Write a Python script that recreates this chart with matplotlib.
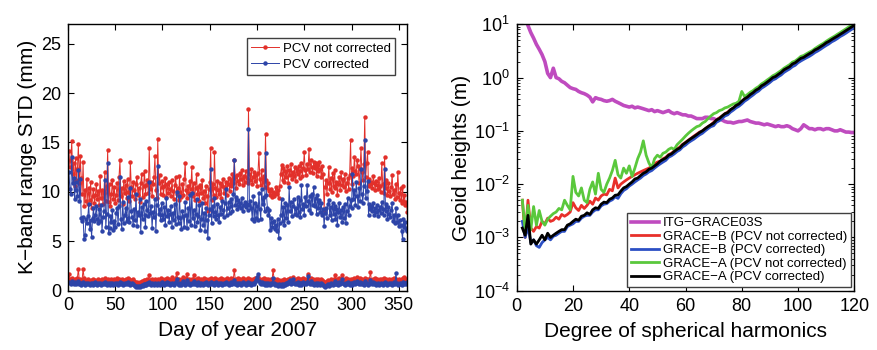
import numpy as np
import matplotlib
matplotlib.use('Agg')
import matplotlib.pyplot as plt

plt.rcParams['font.family'] = ['Liberation Sans', 'DejaVu Sans']
plt.rcParams['mathtext.fontset'] = 'custom'
plt.rcParams['mathtext.rm'] = 'Liberation Sans'
plt.rcParams['mathtext.it'] = 'Liberation Sans:italic'
plt.rcParams['mathtext.bf'] = 'Liberation Sans:bold'

# K-band range residual STD per day (mm), days 1..359
std_high_nc = [
    14.1, 12.5, 13.2, 15.1, 11.8, 12.9, 10.6, 13.4, 11.2, 12.3,
    14.8, 10.9, 13.6, 11.4, 9.8, 13.0, 8.6, 10.2, 9.1, 11.3,
    8.8, 10.4, 9.2, 11.0, 8.4, 9.6, 10.3, 8.9, 9.7, 10.8,
    9.3, 10.1, 8.7, 11.6, 9.4, 10.2, 8.8, 9.9, 12.0, 9.1,
    10.6, 14.2, 9.0, 10.8, 8.6, 9.8, 11.2, 9.3, 10.5, 8.9,
    9.7, 10.9, 9.2, 11.5, 13.2, 9.6, 10.4, 8.8, 11.1, 9.9,
    10.7, 9.4, 11.3, 10.0, 9.1, 13.0, 10.5, 9.6, 11.0, 10.2,
    9.3, 10.8, 11.5, 9.7, 10.4, 9.0, 10.9, 11.8, 9.5, 10.6,
    12.1, 9.8, 10.7, 11.2, 9.9, 14.4, 10.3, 11.0, 9.6, 10.8,
    11.5, 13.6, 10.2, 9.4, 15.3, 10.9, 11.7, 9.8, 10.5, 11.1,
    9.7, 10.6, 11.4, 9.5, 10.8, 9.9, 11.0, 10.3, 9.6, 11.2,
    10.1, 9.3, 10.7, 11.5, 9.8, 10.4, 9.2, 11.6, 10.0, 9.5,
    10.8, 9.7, 11.3, 12.9, 10.2, 9.4, 10.6, 9.9, 11.1, 10.3,
    12.5, 9.6, 10.9, 9.2, 10.4, 11.8, 9.8, 10.5, 9.1, 10.7,
    9.9, 11.2, 9.4, 10.1, 8.9, 10.6, 9.6, 8.1, 10.3, 11.0,
    14.4, 9.2, 10.8, 9.7, 14.0, 10.4, 9.5, 11.1, 10.2, 9.8,
    10.9, 9.4, 10.6, 11.3, 9.9, 10.5, 11.0, 9.7, 10.8, 11.4,
    10.1, 11.2, 10.6, 11.8, 10.9, 13.2, 11.5, 10.4, 11.7, 11.1,
    10.8, 11.9, 11.3, 12.2, 10.7, 11.6, 11.0, 12.1, 11.4, 10.9,
    18.4, 11.8, 11.2, 12.3, 10.8, 11.5, 12.0, 11.1, 11.7, 10.6,
    11.9, 13.9, 11.3, 10.7, 12.2, 11.0, 11.6, 10.5, 15.9, 11.2,
    10.4, 10.9, 10.1, 9.7, 10.3, 9.5, 10.0, 9.6, 9.9, 10.5,
    9.8, 10.2, 9.4, 10.6, 11.8, 12.7, 11.2, 12.4, 11.0, 12.1,
    11.5, 12.6, 10.9, 12.2, 11.7, 12.8, 11.3, 12.0, 11.6, 12.5,
    11.1, 12.3, 11.8, 12.6, 11.4, 12.1, 12.9, 11.6, 12.4, 14.0,
    12.2, 11.7, 12.8, 12.3, 14.3, 12.0, 13.2, 12.5, 11.9, 13.0,
    12.4, 12.9, 11.6, 12.7, 12.1, 13.0, 12.3, 11.5, 12.6, 11.8,
    8.2, 10.5, 11.2, 9.8, 10.9, 12.5, 10.3, 11.4, 10.0, 11.9,
    10.6, 12.2, 10.4, 11.0, 9.7, 10.8, 11.5, 10.2, 12.0, 10.7,
    11.3, 10.5, 11.8, 10.1, 10.9, 11.4, 10.3, 11.7, 15.2, 10.8,
    12.4, 11.6, 13.5, 12.1, 11.8, 13.2, 12.6, 10.9, 12.3, 14.4,
    12.0, 11.2, 12.8, 17.6, 11.5, 12.9, 14.0, 10.6, 11.3, 10.8,
    11.0, 10.4, 11.6, 10.9, 10.2, 11.1, 10.7, 10.3, 11.4, 10.6,
    10.0, 12.9, 10.8, 9.9, 13.5, 10.4, 11.2, 9.7, 10.9, 10.1,
    9.6, 10.5, 11.7, 9.8, 10.2, 9.3, 10.8, 9.5, 12.0, 9.9,
    9.2, 10.4, 8.9, 10.6, 9.1, 9.7, 8.7, 9.0, 8.0,
]
std_high_c = [
    12.0, 10.3, 9.8, 13.5, 10.9, 11.4, 9.3, 11.0, 10.2, 9.6,
    12.2, 9.1, 11.3, 7.3, 7.0, 7.4, 5.2, 5.6, 7.2, 6.8,
    7.5, 8.8, 6.2, 7.1, 5.4, 7.3, 8.4, 7.0, 7.6, 8.6,
    7.2, 6.8, 8.3, 7.0, 8.7, 6.0, 7.4, 8.1, 11.2, 6.4,
    7.8, 12.9, 5.8, 6.3, 7.5, 6.9, 8.2, 6.1, 7.0, 6.4,
    7.9, 8.4, 6.7, 8.6, 11.5, 7.2, 6.2, 9.0, 6.8, 7.6,
    8.4, 7.0, 9.5, 7.3, 6.9, 10.4, 8.1, 7.4, 6.6, 8.3,
    7.1, 9.8, 6.5, 8.0, 7.6, 9.3, 5.9, 8.5, 7.2, 8.8,
    7.7, 6.4, 9.1, 8.2, 7.5, 11.0, 7.9, 8.6, 6.3, 8.0,
    7.4, 9.3, 6.0, 8.7, 12.6, 7.8, 8.3, 7.1, 8.9, 7.6,
    7.2, 8.5, 6.6, 9.4, 7.5, 8.2, 6.9, 7.8, 8.6, 6.4,
    7.9, 7.1, 8.8, 6.7, 10.0, 7.4, 6.8, 9.6, 7.3, 6.2,
    8.1, 7.5, 6.4, 9.0, 7.7, 6.3, 8.4, 7.0, 9.7, 6.6,
    9.9, 7.3, 8.2, 6.5, 7.8, 9.3, 6.9, 7.5, 8.7, 6.1,
    7.2, 8.9, 6.6, 7.9, 6.0, 8.4, 7.1, 5.3, 7.7, 8.3,
    12.3, 6.8, 8.6, 7.5, 9.4, 8.0, 7.2, 8.8, 7.6, 6.9,
    8.5, 7.8, 9.1, 8.2, 7.4, 8.9, 10.3, 7.7, 8.4, 9.0,
    7.9, 8.6, 9.3, 8.1, 9.8, 13.2, 8.7, 9.5, 8.3, 9.2,
    8.6, 8.9, 8.4, 9.4, 8.1, 8.7, 9.0, 8.5, 8.8, 8.2,
    16.4, 8.7, 9.1, 8.4, 7.2, 9.6, 7.0, 8.9, 7.3, 8.6,
    7.1, 9.9, 8.3, 7.2, 10.3, 8.8, 9.5, 8.1, 13.9, 9.7,
    8.4, 7.6, 8.2, 6.1, 7.3, 6.4, 6.9, 7.0, 6.2, 6.6,
    6.0, 7.2, 5.3, 6.8, 7.7, 9.3, 7.0, 8.5, 6.6, 8.9,
    7.3, 8.7, 6.9, 10.5, 8.1, 9.0, 7.5, 8.6, 9.3, 7.8,
    8.4, 7.6, 9.5, 8.0, 9.2, 7.4, 10.7, 8.3, 8.8, 7.7,
    9.5, 8.6, 10.7, 9.1, 8.2, 9.6, 7.9, 9.8, 8.7, 10.5,
    8.6, 9.4, 7.8, 9.7, 8.4, 9.2, 8.0, 8.9, 7.6, 8.3,
    6.5, 7.9, 8.4, 7.3, 8.8, 9.2, 7.6, 8.5, 7.1, 8.9,
    7.8, 8.6, 7.2, 8.3, 6.6, 8.0, 8.9, 7.4, 8.2, 6.9,
    8.5, 7.3, 8.8, 6.8, 8.1, 9.4, 7.7, 8.6, 9.2, 8.4,
    11.8, 9.3, 10.2, 8.7, 11.0, 9.6, 8.5, 10.4, 9.1, 12.3,
    9.8, 8.9, 10.6, 15.2, 9.4, 10.1, 11.1, 7.6, 8.8, 8.3,
    8.6, 8.1, 8.9, 7.7, 8.4, 8.0, 8.7, 7.5, 8.2, 8.5,
    7.9, 9.0, 8.3, 7.6, 12.3, 8.1, 8.8, 7.2, 8.5, 7.8,
    7.4, 8.2, 8.9, 7.0, 7.6, 6.8, 8.4, 6.9, 7.7, 6.5,
    7.1, 6.6, 6.0, 5.2, 7.2, 6.4, 6.9, 6.2, 6.0,
]
std_low_nc = [
    1.7, 1.2, 1.0, 1.3, 1.1, 0.9, 1.2, 1.0, 1.1, 1.3,
    2.2, 1.0, 1.2, 0.9, 1.1, 2.2, 1.3, 1.0, 0.9, 1.1,
    1.2, 1.0, 0.9, 1.1, 1.0, 0.8, 1.2, 1.0, 1.1, 0.9,
    1.0, 1.2, 0.9, 1.1, 1.0, 1.2, 0.9, 1.0, 1.3, 1.1,
    1.0, 1.2, 0.9, 1.1, 1.0, 1.2, 1.1, 0.9, 1.2, 1.0,
    1.1, 1.3, 1.0, 1.2, 1.1, 1.0, 1.2, 0.9, 1.1, 1.0,
    1.2, 1.1, 1.3, 1.0, 1.2, 0.9, 1.1, 1.0, 1.2, 1.0,
    0.9, 0.8, 0.9, 0.7, 0.8, 0.9, 0.8, 1.0, 0.9, 1.1,
    1.0, 1.1, 0.9, 1.2, 1.0, 1.6, 1.1, 1.0, 1.2, 1.1,
    1.0, 1.2, 1.1, 0.9, 1.2, 1.0, 1.1, 1.3, 1.0, 1.2,
    1.1, 1.0, 1.2, 1.1, 1.3, 1.0, 1.2, 1.1, 1.0, 1.4,
    1.1, 1.0, 1.2, 1.3, 1.8, 1.1, 1.0, 1.2, 1.1, 1.0,
    1.2, 1.4, 1.1, 1.0, 1.3, 1.7, 1.1, 1.2, 1.0, 1.1,
    1.2, 1.0, 1.6, 1.1, 1.2, 1.0, 1.1, 1.3, 1.0, 1.1,
    1.2, 1.1, 1.0, 1.3, 1.1, 1.2, 1.0, 1.1, 1.2, 1.0,
    1.3, 1.1, 1.2, 1.0, 1.1, 1.3, 1.2, 1.0, 1.1, 1.2,
    1.1, 1.3, 1.0, 1.2, 1.1, 1.0, 1.2, 1.3, 1.1, 1.0,
    1.2, 1.1, 1.3, 1.0, 1.2, 2.1, 1.1, 1.2, 1.0, 1.3,
    1.1, 1.2, 1.0, 1.1, 1.3, 1.2, 1.1, 1.0, 1.2, 1.1,
    1.3, 1.1, 1.2, 1.0, 1.1, 1.2, 1.0, 1.3, 1.1, 1.2,
    1.4, 1.2, 1.1, 1.0, 1.2, 1.1, 1.3, 1.0, 1.2, 1.1,
    1.0, 1.2, 1.1, 1.0, 1.2, 1.1, 2.1, 1.2, 1.0, 1.1,
    1.2, 1.0, 1.1, 0.9, 1.0, 1.1, 0.9, 1.0, 1.2, 1.0,
    1.1, 1.0, 1.2, 1.1, 1.3, 1.0, 1.2, 1.4, 1.1, 1.0,
    1.2, 1.1, 1.3, 1.0, 1.2, 1.1, 1.0, 1.2, 1.3, 1.1,
    1.2, 1.0, 1.1, 1.7, 1.2, 1.1, 1.3, 1.0, 1.2, 1.1,
    1.0, 1.2, 1.1, 1.0, 1.2, 1.1, 1.0, 1.2, 1.1, 1.0,
    0.9, 0.8, 0.9, 1.0, 1.1, 0.9, 1.0, 1.2, 1.1, 1.0,
    1.2, 1.1, 1.6, 1.0, 1.2, 1.1, 1.3, 1.0, 1.1, 1.6,
    1.2, 1.0, 1.1, 1.3, 1.0, 1.2, 1.1, 1.0, 1.2, 1.1,
    1.0, 1.2, 1.3, 1.1, 1.0, 1.4, 1.2, 1.1, 1.3, 1.0,
    1.2, 1.1, 1.0, 1.3, 1.1, 1.2, 1.0, 1.1, 1.2, 1.9,
    1.1, 1.0, 1.2, 1.1, 1.3, 1.0, 1.2, 1.1, 1.0, 1.2,
    1.1, 1.2, 1.0, 1.3, 1.1, 1.0, 1.2, 1.1, 1.0, 1.2,
    1.1, 1.0, 1.2, 1.1, 1.3, 1.0, 1.2, 1.1, 1.0, 1.2,
    1.1, 1.0, 1.2, 1.3, 1.1, 1.4, 1.0, 1.2, 1.1,
]
std_low_c = [
    0.9, 0.8, 0.7, 1.0, 0.8, 0.7, 0.9, 0.8, 0.7, 0.8,
    1.0, 0.7, 0.8, 0.6, 0.8, 0.9, 0.7, 0.6, 0.8, 0.7,
    0.8, 0.7, 0.6, 0.8, 0.7, 0.6, 0.8, 0.7, 0.9, 0.7,
    0.6, 0.8, 0.7, 0.8, 0.6, 0.7, 0.8, 0.7, 0.9, 0.7,
    0.6, 0.8, 0.7, 0.6, 0.8, 0.7, 0.8, 0.6, 0.7, 0.8,
    0.7, 0.8, 0.6, 0.7, 0.9, 0.7, 0.8, 0.6, 0.7, 0.8,
    0.7, 0.8, 0.9, 0.7, 0.8, 0.6, 0.7, 0.8, 0.7, 0.6,
    0.5, 0.4, 0.5, 0.4, 0.5, 0.4, 0.5, 0.6, 0.5, 0.7,
    0.6, 0.7, 0.6, 0.8, 0.7, 0.9, 0.7, 0.6, 0.8, 0.7,
    0.6, 0.8, 0.7, 0.6, 0.8, 0.7, 0.6, 0.8, 0.7, 0.9,
    0.7, 0.6, 0.8, 0.7, 0.9, 0.7, 0.8, 0.6, 0.7, 0.8,
    0.7, 0.6, 0.8, 0.9, 1.2, 0.7, 0.6, 0.8, 0.7, 0.6,
    0.8, 1.0, 0.7, 0.6, 0.8, 1.1, 0.7, 0.8, 0.6, 0.7,
    0.8, 0.7, 1.0, 0.7, 0.8, 0.6, 0.7, 0.9, 0.7, 0.6,
    0.8, 0.7, 0.6, 0.8, 0.7, 0.9, 0.7, 0.6, 0.8, 0.7,
    0.9, 0.7, 0.8, 0.6, 0.7, 0.8, 0.9, 0.7, 0.6, 0.8,
    0.7, 0.8, 0.6, 0.7, 0.8, 0.7, 0.9, 0.8, 0.7, 0.6,
    0.8, 0.7, 0.9, 0.7, 0.8, 1.1, 0.7, 0.8, 0.6, 0.8,
    0.7, 0.8, 0.6, 0.7, 0.9, 0.8, 0.7, 0.6, 0.8, 0.7,
    0.9, 0.7, 0.8, 0.6, 0.7, 0.8, 0.7, 0.9, 1.1, 1.4,
    1.7, 1.0, 0.8, 0.7, 0.9, 0.7, 0.8, 0.6, 0.8, 0.7,
    0.6, 0.8, 0.7, 0.6, 0.8, 0.7, 1.3, 0.8, 0.6, 0.7,
    0.6, 0.5, 0.7, 0.6, 0.5, 0.7, 0.6, 0.5, 0.7, 0.6,
    0.8, 0.7, 0.9, 0.8, 1.1, 0.7, 0.8, 1.2, 0.8, 0.7,
    0.8, 0.7, 0.9, 0.6, 0.8, 0.7, 0.6, 0.8, 0.9, 0.7,
    0.8, 0.7, 0.9, 1.5, 0.8, 0.7, 1.0, 0.7, 0.8, 0.6,
    0.7, 0.8, 0.6, 0.7, 0.8, 0.7, 0.6, 0.8, 0.7, 0.6,
    0.5, 0.4, 0.5, 0.6, 0.7, 0.5, 0.6, 0.8, 0.7, 0.6,
    0.8, 0.7, 1.0, 0.7, 0.8, 0.6, 0.9, 0.7, 0.8, 1.2,
    0.8, 0.7, 0.6, 0.8, 0.7, 0.9, 0.7, 0.6, 0.8, 0.7,
    0.6, 0.8, 0.9, 0.7, 0.8, 1.0, 0.8, 0.7, 0.9, 0.7,
    0.8, 0.7, 0.6, 1.0, 0.8, 0.7, 0.6, 0.8, 0.7, 1.1,
    0.8, 0.7, 0.9, 0.7, 0.8, 0.6, 0.7, 0.8, 0.6, 0.7,
    0.8, 0.7, 0.6, 0.8, 0.9, 0.7, 0.8, 0.6, 0.7, 0.8,
    0.7, 0.8, 0.6, 0.7, 0.9, 0.7, 1.8, 0.8, 0.6, 0.7,
    0.8, 0.7, 0.6, 0.8, 0.9, 0.7, 0.8, 0.7, 0.9,
]

# geoid height error per spherical harmonic degree (m), degrees 2..120
itg_grace03s = [
    25, 14, 9.5, 7.0, 5.5, 4.2, 3.4, 2.7, 2.0, 1.2,
    1.0, 1.5, 1.0, 0.95, 0.85, 0.8, 0.72, 0.65, 0.62, 0.6,
    0.55, 0.52, 0.5, 0.47, 0.43, 0.35, 0.42, 0.4, 0.39, 0.37,
    0.36, 0.37, 0.39, 0.36, 0.34, 0.32, 0.30, 0.29, 0.28, 0.29,
    0.27, 0.28, 0.27, 0.26, 0.25, 0.24, 0.25, 0.23, 0.24, 0.23,
    0.22, 0.23, 0.24, 0.22, 0.21, 0.22, 0.21, 0.20, 0.20, 0.19,
    0.19, 0.18, 0.17, 0.17, 0.17, 0.18, 0.18, 0.17, 0.17, 0.16,
    0.17, 0.16, 0.15, 0.145, 0.145, 0.14, 0.145, 0.15, 0.15, 0.155,
    0.16, 0.15, 0.145, 0.14, 0.14, 0.135, 0.13, 0.135, 0.13, 0.125,
    0.12, 0.125, 0.12, 0.12, 0.125, 0.12, 0.11, 0.105, 0.10, 0.11,
    0.13, 0.12, 0.11, 0.11, 0.105, 0.11, 0.11, 0.105, 0.11, 0.11,
    0.105, 0.10, 0.10, 0.105, 0.10, 0.095, 0.095, 0.093, 0.093,
]
graceb_nc = [
    5.0e-3, 1.0e-3, 5.0e-3, 1.5e-3, 1.3e-3, 1.6e-3, 1.5e-3, 2.0e-3, 1.8e-3, 2.3e-3,
    2.0e-3, 2.1e-3, 2.4e-3, 2.2e-3, 2.7e-3, 2.5e-3, 2.7e-3, 3.0e-3, 4.5e-3, 3.6e-3,
    3.2e-3, 4.0e-3, 3.5e-3, 4.0e-3, 4.8e-3, 4.2e-3, 5.5e-3, 5.0e-3, 6.0e-3, 6.5e-3,
    6.3e-3, 8.0e-3, 7.5e-3, 0.013, 8.5e-3, 0.010, 0.011, 0.012, 0.013, 0.014,
    0.015, 0.016, 0.017, 0.018, 0.019, 0.020, 0.022, 0.024, 0.026, 0.027,
    0.030, 0.032, 0.036, 0.038, 0.042, 0.046, 0.050, 0.056, 0.061, 0.067,
    0.073, 0.080, 0.087, 0.095, 0.10, 0.11, 0.12, 0.13, 0.145, 0.16,
    0.175, 0.19, 0.21, 0.225, 0.25, 0.27, 0.30, 0.33, 0.36, 0.40,
    0.44, 0.48, 0.53, 0.58, 0.63, 0.70, 0.76, 0.83, 0.90, 1.0,
    1.06, 1.15, 1.25, 1.4, 1.5, 1.6, 1.8, 1.9, 2.1, 2.3,
    2.4, 2.6, 2.8, 3.0, 3.3, 3.5, 3.8, 4.1, 4.5, 4.8,
    5.2, 5.6, 6.0, 6.5, 7.0, 7.6, 8.2, 8.9, 9.6,
]
graceb_c = [
    2.0e-3, 1.0e-3, 1.6e-3, 8.0e-4, 9.0e-4, 7.0e-4, 6.5e-4, 8.0e-4, 9.0e-4, 1.0e-3,
    9.0e-4, 1.05e-3, 1.1e-3, 1.2e-3, 1.3e-3, 1.3e-3, 1.6e-3, 1.7e-3, 1.8e-3, 2.0e-3,
    2.0e-3, 2.3e-3, 2.5e-3, 2.6e-3, 2.6e-3, 3.0e-3, 3.3e-3, 3.3e-3, 3.9e-3, 4.2e-3,
    4.3e-3, 4.8e-3, 5.1e-3, 5.8e-3, 5.4e-3, 6.6e-3, 7.6e-3, 8.2e-3, 9.2e-3, 0.010,
    0.011, 0.012, 0.013, 0.0145, 0.0155, 0.017, 0.018, 0.020, 0.022, 0.024,
    0.026, 0.028, 0.032, 0.034, 0.037, 0.041, 0.044, 0.050, 0.054, 0.060,
    0.065, 0.070, 0.077, 0.084, 0.090, 0.10, 0.11, 0.12, 0.125, 0.145,
    0.155, 0.17, 0.19, 0.20, 0.225, 0.245, 0.27, 0.29, 0.32, 0.36,
    0.39, 0.43, 0.47, 0.52, 0.56, 0.63, 0.68, 0.74, 0.81, 0.90,
    0.95, 1.04, 1.12, 1.25, 1.35, 1.45, 1.6, 1.7, 1.9, 2.05,
    2.2, 2.35, 2.5, 2.7, 2.95, 3.15, 3.4, 3.7, 4.0, 4.3,
    4.7, 5.0, 5.4, 5.9, 6.3, 6.8, 7.4, 8.0, 8.6,
]
gracea_nc = [
    5.0e-3, 1.3e-3, 4.0e-3, 1.4e-3, 3.8e-3, 1.7e-3, 3.2e-3, 2.0e-3, 1.7e-3, 2.2e-3,
    2.5e-3, 2.8e-3, 3.0e-3, 3.5e-3, 3.3e-3, 5.0e-3, 4.0e-3, 3.3e-3, 0.014, 7.0e-3,
    6.0e-3, 8.5e-3, 5.0e-3, 4.5e-3, 8.0e-3, 0.011, 6.5e-3, 0.016, 8.0e-3, 7.0e-3,
    0.010, 0.013, 0.018, 0.028, 0.015, 0.013, 0.020, 0.016, 0.022, 0.014,
    0.020, 0.030, 0.040, 0.065, 0.035, 0.025, 0.020, 0.030, 0.035, 0.032,
    0.038, 0.040, 0.045, 0.048, 0.045, 0.055, 0.062, 0.070, 0.080, 0.090,
    0.10, 0.11, 0.12, 0.125, 0.14, 0.15, 0.17, 0.19, 0.21, 0.22,
    0.24, 0.25, 0.27, 0.28, 0.30, 0.32, 0.33, 0.36, 0.55, 0.44,
    0.48, 0.53, 0.57, 0.63, 0.68, 0.76, 0.82, 0.90, 0.98, 1.08,
    1.15, 1.25, 1.36, 1.5, 1.62, 1.75, 1.95, 2.05, 2.25, 2.5,
    2.6, 2.8, 3.0, 3.2, 3.5, 3.8, 4.1, 4.4, 4.8, 5.2,
    5.6, 6.0, 6.5, 7.0, 7.6, 8.2, 8.9, 9.6, 10.4,
]
gracea_c = [
    1.5e-3, 1.1e-3, 2.6e-3, 7.5e-4, 9.0e-4, 7.5e-4, 9.0e-4, 1.1e-3, 9.0e-4, 1.2e-3,
    1.0e-3, 1.1e-3, 1.2e-3, 1.3e-3, 1.4e-3, 1.4e-3, 1.7e-3, 1.8e-3, 2.0e-3, 2.2e-3,
    2.1e-3, 2.5e-3, 2.6e-3, 2.9e-3, 2.7e-3, 3.3e-3, 3.6e-3, 3.5e-3, 4.2e-3, 4.6e-3,
    4.5e-3, 5.2e-3, 5.5e-3, 6.2e-3, 6.3e-3, 7.4e-3, 8.5e-3, 9.0e-3, 0.010, 0.011,
    0.0125, 0.013, 0.0145, 0.016, 0.017, 0.019, 0.020, 0.022, 0.024, 0.027,
    0.029, 0.031, 0.035, 0.037, 0.041, 0.045, 0.048, 0.055, 0.060, 0.066,
    0.072, 0.078, 0.085, 0.093, 0.10, 0.11, 0.12, 0.13, 0.14, 0.16,
    0.17, 0.19, 0.21, 0.22, 0.25, 0.27, 0.30, 0.32, 0.36, 0.40,
    0.43, 0.48, 0.52, 0.58, 0.62, 0.70, 0.75, 0.82, 0.90, 1.0,
    1.05, 1.15, 1.25, 1.4, 1.5, 1.6, 1.8, 1.9, 2.1, 2.3,
    2.4, 2.6, 2.8, 3.0, 3.3, 3.5, 3.8, 4.1, 4.5, 4.8,
    5.2, 5.6, 6.0, 6.5, 7.0, 7.6, 8.2, 8.9, 9.6,
]

RED = '#e2302a'
BLUE = '#2d44a8'

fig = plt.figure(figsize=(8.77, 3.5), dpi=100)
ax1 = fig.add_axes([0.0775, 0.170, 0.3869, 0.7614])
ax2 = fig.add_axes([0.5892, 0.1694, 0.3849, 0.7611])

# left: daily STD, uncorrected vs corrected
def days(v):
    return np.arange(1, len(v) + 1)

style = dict(marker='o', markersize=3.2, linewidth=0.7, markeredgewidth=0)
ax1.plot(days(std_high_nc), std_high_nc, color=RED, label='PCV not corrected', **style)
ax1.plot(days(std_low_nc), std_low_nc, color=RED, **style)
ax1.plot(days(std_high_c), std_high_c, color=BLUE, label='PCV corrected', **style)
ax1.plot(days(std_low_c), std_low_c, color=BLUE, **style)

ax1.set_xlim(0, 359)
ax1.set_ylim(0, 27)
ax1.set_xticks(np.arange(0, 351, 50))
ax1.set_yticks(np.arange(0, 26, 5))
ax1.set_xlabel('Day of year 2007', fontsize=15, labelpad=5)
ax1.set_ylabel('K\u2212band range STD (mm)', fontsize=15, labelpad=3)
leg1 = ax1.legend(loc='upper right', bbox_to_anchor=(0.965, 0.947), borderaxespad=0,
                  fontsize=9.5, handlelength=2.1, handletextpad=0.3, labelspacing=0.25,
                  borderpad=0.35, fancybox=False, framealpha=1, edgecolor='0.25')
leg1.get_frame().set_linewidth(1.0)

# right: degree variances of geoid heights
deg = np.arange(2, 121)
ax2.semilogy(deg[:len(itg_grace03s)], itg_grace03s, color='#bf4bbf', linewidth=2.6, label='ITG\u2212GRACE03S')
ax2.semilogy(deg[:len(graceb_nc)], graceb_nc, color='#e8302a', linewidth=2.0, label='GRACE\u2212B (PCV not corrected)')
ax2.semilogy(deg[:len(graceb_c)], graceb_c, color='#2c4fc4', linewidth=2.0, label='GRACE\u2212B (PCV corrected)')
ax2.semilogy(deg[:len(gracea_nc)], gracea_nc, color='#5ac83c', linewidth=2.0, label='GRACE\u2212A (PCV not corrected)')
ax2.semilogy(deg[:len(gracea_c)], gracea_c, color='black', linewidth=2.0, label='GRACE\u2212A (PCV corrected)')

ax2.set_xlim(0, 120)
ax2.set_ylim(1e-4, 1e1)
ax2.set_xticks(np.arange(0, 121, 20))
ax2.set_xlabel('Degree of spherical harmonics', fontsize=15, labelpad=5)
ax2.set_ylabel('Geoid heights (m)', fontsize=15, labelpad=2)
leg2 = ax2.legend(loc='lower right', borderaxespad=0.25, fontsize=9.5, handlelength=2.1,
                  handletextpad=0.3, labelspacing=0.1, borderpad=0.3, fancybox=False,
                  framealpha=1, edgecolor='0.25')
leg2.get_frame().set_linewidth(1.0)

for ax in (ax1, ax2):
    ax.tick_params(which='major', direction='in', top=True, right=True, length=4,
                   width=0.8, labelsize=13, pad=5)
    for s in ax.spines.values():
        s.set_linewidth(1.0)
ax2.tick_params(which='minor', axis='y', direction='in', left=True, right=True, length=2.2, width=0.6)
ax2.tick_params(which='minor', axis='x', bottom=False, top=False)

fig.savefig('out.png', dpi=100)
